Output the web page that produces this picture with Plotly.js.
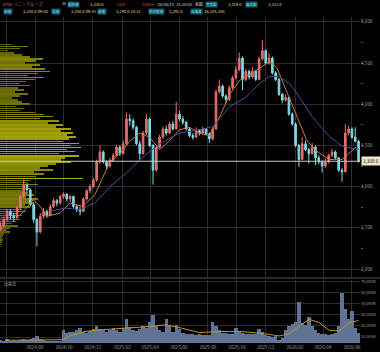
<!DOCTYPE html>
<html><head><meta charset="utf-8">
<script src="https://cdn.plot.ly/plotly-3.0.1.min.js"></script>
<style>html,body{margin:0;padding:0;background:#000;}#chart{width:380px;height:352px;}</style>
</head><body><div id="chart"></div>
<script>
// ---- data (weekly candles) ----
const firstWeek = '2024-05-20';
const opens = [2480,2520,2600,2700,2650,2620,2740,2880,3020,2960,
2780,2600,2450,2640,2700,2650,2760,2830,2800,2880,
2910,2850,2880,2760,2720,2700,2850,2950,3000,3080,
3300,3420,3300,3250,3320,3380,3480,3400,3520,3820,
3800,3720,3520,3400,3650,3820,3500,3200,3480,3600,
3700,3650,3760,3700,3880,3820,3780,3700,3620,3600,
3680,3650,3700,3640,3580,3700,4150,4220,4100,4060,
4200,4320,4420,4560,4300,4400,4330,4400,4300,4550,
4650,4500,4560,4380,4300,4120,4050,4080,3880,3760,
3500,3330,3520,3450,3400,3480,3350,3300,3250,3300,
3380,3420,3350,3200,3180,3650,3700,3600,3550];
const highs = [2570,2640,2730,2720,2680,2770,2900,3085,3050,2980,
2800,2620,2680,2740,2720,2790,2860,2850,2900,2930,
2920,2900,2890,2780,2760,2870,2970,3030,3110,3330,
3500,3440,3320,3350,3410,3510,3500,3560,3900,3880,
3830,3740,3560,3680,3880,3840,3520,3500,3630,3730,
3740,3790,3800,4030,3920,3860,3800,3720,3650,3720,
3700,3730,3710,3660,3720,4180,4300,4240,4120,4230,
4350,4460,4630,4580,4430,4420,4450,4420,4580,4780,
4670,4620,4580,4400,4320,4140,4120,4090,3900,3780,
3520,3600,3560,3470,3530,3500,3380,3320,3340,3400,
3460,3440,3360,3230,3760,3740,3720,3720,3570];
const lows = [2460,2500,2580,2600,2570,2610,2720,2860,2930,2760,
2560,2274,2430,2610,2620,2640,2740,2760,2780,2850,
2820,2810,2740,2690,2650,2690,2830,2920,2980,3060,
3280,3280,3210,3230,3300,3360,3370,3390,3500,3740,
3690,3500,3330,3390,3630,3480,3025,3180,3460,3580,
3620,3640,3680,3690,3800,3750,3680,3600,3570,3590,
3620,3630,3620,3530,3560,3690,4130,4080,4010,4040,
4180,4300,4400,4170,4280,4300,4310,4280,4290,4530,
4480,4480,4360,4280,4100,4010,4030,3860,3740,3480,
3240,3320,3430,3280,3390,3260,3270,3170,3230,3280,
3360,3330,3180,3060,3170,3620,3580,3540,3290];
const closes = [2520,2600,2700,2650,2620,2740,2880,3020,2960,2780,
2600,2450,2640,2700,2650,2760,2830,2800,2880,2910,
2850,2880,2760,2720,2700,2850,2950,3000,3080,3300,
3420,3300,3250,3320,3380,3480,3400,3520,3820,3800,
3720,3520,3400,3650,3820,3500,3200,3480,3600,3700,
3650,3760,3700,3880,3820,3780,3700,3620,3600,3680,
3650,3700,3640,3580,3700,4150,4220,4100,4060,4200,
4320,4420,4560,4300,4400,4330,4400,4300,4550,4650,
4500,4560,4380,4300,4120,4050,4080,3880,3760,3500,
3330,3520,3450,3400,3480,3350,3300,3250,3300,3380,
3420,3350,3200,3180,3650,3700,3600,3550,3308];
// volume, thousands of shares
const volumes = [17500,16500,18000,16000,17000,16500,17500,18500,17000,18000,
19500,21000,18500,17000,16500,16000,16500,16000,16500,26000,
24000,25000,24500,26000,28000,25000,24000,25500,27000,30000,
27000,26000,25000,26000,28000,26000,25000,27000,36000,29000,
26000,25500,27000,30000,28000,34000,40000,30000,26000,25000,
36000,30000,25000,31000,27000,24000,23000,22500,23000,22000,
23000,22000,21500,22000,34000,30000,26000,24000,23500,22500,
23000,28000,25000,24000,23000,22500,23000,22500,27000,25000,
21500,21000,20000,21000,17000,19000,26000,30000,32000,34000,
52000,33000,31000,38000,30000,26000,24000,23000,22500,22000,
23000,24000,30000,60000,45000,36000,44000,28000,24000];
// short moving average (orange)
const maShortDates = ['2024-06-30','2024-07-28','2024-08-12','2024-08-26','2024-09-23','2024-10-14','2024-11-10','2024-12-05','2025-01-06','2025-01-27','2025-02-17','2025-03-10','2025-03-31','2025-04-21','2025-05-12','2025-06-02','2025-06-23','2025-07-14','2025-08-04','2025-08-26','2025-09-16','2025-10-07','2025-11-03','2025-12-09','2025-12-24','2026-01-14','2026-02-04','2026-02-25','2026-03-18','2026-04-14','2026-05-11','2026-06-10'];
const maShortValues = [2650,2840,2760,2640,2680,2800,2760,2900,3300,3400,3550,3650,3600,3450,3560,3690,3720,3650,3620,3850,4120,4290,4380,4520,4450,4150,3850,3570,3430,3330,3330,3480];
// long moving average (purple)
const maLongDates = ['2024-09-01','2024-10-03','2024-11-04','2024-12-05','2025-01-06','2025-02-17','2025-03-10','2025-04-21','2025-06-02','2025-07-14','2025-08-11','2025-09-16','2025-10-21','2025-11-18','2025-12-09','2025-12-30','2026-01-20','2026-02-04','2026-03-09','2026-04-14','2026-05-11','2026-06-15'];
const maLongValues = [2700,2740,2720,2800,3000,3200,3330,3520,3650,3690,3730,3970,4090,4250,4335,4335,4250,4140,3850,3610,3490,3450];
// volume moving average (orange, volume panel)
const volMaDates = ['2024-05-30','2024-08-12','2024-09-29','2024-10-14','2024-11-14','2024-12-16','2025-02-17','2025-03-31','2025-05-02','2025-06-02','2025-07-14','2025-08-26','2025-10-07','2025-11-18','2025-12-30','2026-01-20','2026-02-10','2026-03-03','2026-03-24','2026-04-14','2026-05-05','2026-05-26','2026-06-15'];
const volMaValues = [17000,17500,17500,21000,25000,26500,28000,29500,31000,28500,24000,25000,25000,23500,21000,23000,30000,36000,33000,26000,25500,33000,35000];
// volume-at-price profile: price bins from 4,750 down to 2,275 in steps of 25
const profileTop = 4750, profileStep = 25;
const profileVolumes = [0,12,28,20,8,14,22,30,43,36,
25,40,32,45,50,38,28,44,35,26,
20,30,18,24,15,28,20,12,18,22,
30,16,24,20,35,44,52,40,58,48,
62,55,70,60,72,66,75,68,62,78,
70,80,66,74,58,78,64,60,70,55,
48,40,52,34,44,36,82,30,26,38,
24,30,22,28,34,26,38,30,34,25,
30,22,26,18,22,14,20,16,12,18,
10,6,10,4,3,2,3,2,2,1];
const lastPrice = 3308.0;
const priceTicks = [2000,2500,3000,3500,4000,4500,5000];
const volumeTicks = [20000,30000,40000,50000,60000,70000];
const monthTicks = ['2024-06-01','2024-08-01','2024-10-01','2024-12-01','2025-02-01','2025-04-01','2025-06-01','2025-08-01','2025-10-01','2025-12-01','2026-02-01','2026-04-01','2026-06-01'];
const monthLabels = ['2024/06','2024/08','2024/10','2024/12','2025/02','2025/04','2025/06','2025/08','2025/10','2025/12','2026/02','2026/04','2026/06'];

// ---- build ----
const DAY = 864e5;
const t0 = Date.parse(firstWeek + 'T00:00:00Z');
const dates = closes.map((_, i) => new Date(t0 + i * 7 * DAY).toISOString().slice(0, 10));
const xRange = ['2024-05-19', '2026-06-18'];
const spanMs = Date.parse(xRange[1]) - Date.parse(xRange[0]);
const profileMax = Math.max(...profileVolumes);
const profileScale = spanMs * 0.23 / profileMax;   // longest bar ~23% of width
const profilePrices = profileVolumes.map((_, i) => profileTop - i * profileStep);
const profileColors = profileVolumes.map(v => {
  const r = v / profileMax;
  const c = Math.round(85 + 85 * r);
  return `rgb(${c},${c},8)`;
});

const traces = [
  {type:'bar', orientation:'h', x: profileVolumes.map(v => v * profileScale), y: profilePrices,
   base: xRange[0], width: 19, marker:{color: profileColors, line:{width:0}},
   xaxis:'x', yaxis:'y', hoverinfo:'skip'},
  {type:'candlestick', x: dates, open: opens, high: highs, low: lows, close: closes,
   xaxis:'x', yaxis:'y', whiskerwidth: 0,
   increasing:{line:{color:'#e46f6c', width:1}, fillcolor:'#e46f6c'},
   decreasing:{line:{color:'#7fd6e6', width:1}, fillcolor:'#7fd6e6'},
   hoverinfo:'skip'},
  {type:'scatter', mode:'lines', x: maShortDates, y: maShortValues, xaxis:'x', yaxis:'y',
   line:{color:'#c57a3e', width:1}, hoverinfo:'skip'},
  {type:'scatter', mode:'lines', x: maLongDates, y: maLongValues, xaxis:'x', yaxis:'y',
   line:{color:'#4d4d9a', width:1}, hoverinfo:'skip'},
  {type:'bar', x: dates, y: volumes, xaxis:'x', yaxis:'y2',
   marker:{color:'#5f7394', line:{width:0}}, hoverinfo:'skip'},
  {type:'scatter', mode:'lines', x: volMaDates, y: volMaValues, xaxis:'x', yaxis:'y2',
   line:{color:'#c8902e', width:1}, hoverinfo:'skip'}
];

const H = 326, TOP = 17;
const py = p => 1 + (TOP - p) / H;
const px = p => p / 360;
function hdr(x, y, text, color, boxed) {
  return {xref:'paper', yref:'paper', x: px(x), y: py(y), xanchor:'left', yanchor:'middle',
    text, showarrow:false, font:{size: boxed ? 3.5 : 4.1, color},
    bgcolor: boxed ? '#0c5566' : 'rgba(0,0,0,0)', borderpad: 0};
}
const CY = '#8fe6f2', YL = '#e6dc9a', WH = '#dddddd', PK = '#e2609e', RD = '#e0474a';
const annotations = [
  hdr(2, 4, '6758', PK), hdr(13, 4, 'ソニーグループ', PK),
  hdr(61, 4, '■', '#555'), hdr(67, 4, '現在値', CY, true), hdr(89, 4, '3,330.0', YL),
  hdr(115, 4, '-20.0', RD), hdr(140, 4, '-0.60%', RD),
  hdr(156, 4, '26/06/15', WH), hdr(175, 4, '15:30:00', WH),
  hdr(194, 4, '気配', WH), hdr(205, 4, '売気配', CY, true), hdr(227, 4, '3,319.0', YL),
  hdr(245, 4, '買気配', CY, true), hdr(267, 4, '3,321.0', YL),
  hdr(3, 11, '始値', CY, true), hdr(22, 11, '3,330.0 09:00', YL),
  hdr(51, 11, '高値', CY, true), hdr(70, 11, '3,350.0 09:35', YL),
  hdr(97, 11, '安値', CY, true), hdr(115, 11, '3,290.0 10:31', YL),
  hdr(148, 11, '前日終値', CY, true), hdr(168, 11, '3,292.0', YL),
  hdr(190, 11, '出来高', CY, true), hdr(203, 11, '16,105,300', YL),
  {xref:'paper', yref:'paper', x: px(2), y: py(284), xanchor:'left', yanchor:'middle',
   text:'出来高', showarrow:false, font:{size:4, color:'#aaa'}},
  {xref:'paper', yref:'y', x: 1.003, y: lastPrice, xanchor:'left', yanchor:'middle',
   text: lastPrice.toLocaleString('en-US', {minimumFractionDigits:1}), showarrow:false,
   font:{size:4.6, color:'#111'}, bgcolor:'#efe6c8', borderpad:1}
];

const layout = {
  width:380, height:352, paper_bgcolor:'#000', plot_bgcolor:'#000',
  margin:{l:0, r:20, t:TOP, b:9, pad:0}, showlegend:false, bargap:0,
  font:{family:'Noto Sans CJK JP, Noto Sans, DejaVu Sans, sans-serif', size:5, color:'#9a9a9a'},
  xaxis:{type:'date', range:xRange, domain:[0,1], anchor:'y2',
    tickvals: monthTicks, ticktext: monthLabels, tickfont:{size:4.6, color:'#9a9a9a'},
    showgrid:true, gridcolor:'#2c2c2c', gridwidth:1, zeroline:false, showline:false,
    ticks:'', rangeslider:{visible:false}, fixedrange:true},
  yaxis:{domain:[py(277), 1], range:[1903, 5059], side:'right', tickvals: priceTicks,
    tickformat:',', tickfont:{size:4.6, color:'#9a9a9a'}, gridcolor:'#2c2c2c',
    zeroline:false, showline:false, ticks:'', anchor:'x',
    minor:{dtick:250, tick0:0, ticks:'outside', ticklen:2, tickcolor:'#555', showgrid:false}},
  yaxis2:{domain:[0, py(280)], range:[14545, 71800], side:'right', tickvals: volumeTicks,
    ticktext: volumeTicks.map(v => v.toLocaleString('en-US') + 'K'),
    tickfont:{size:4, color:'#9a9a9a'}, gridcolor:'#2c2c2c', zeroline:false, showline:false,
    ticks:'', anchor:'x'},
  shapes:[
    {type:'line', xref:'paper', yref:'y', x0:0, x1:1, y0:lastPrice, y1:lastPrice,
     line:{color:'#c8c8c8', width:1}},
    {type:'line', xref:'paper', yref:'paper', x0:0, x1:380/360, y0:py(278), y1:py(278),
     line:{color:'#555', width:1}}
  ],
  annotations
};

Plotly.newPlot('chart', traces, layout, {displayModeBar:false, staticPlot:true});
</script>
</body></html>
